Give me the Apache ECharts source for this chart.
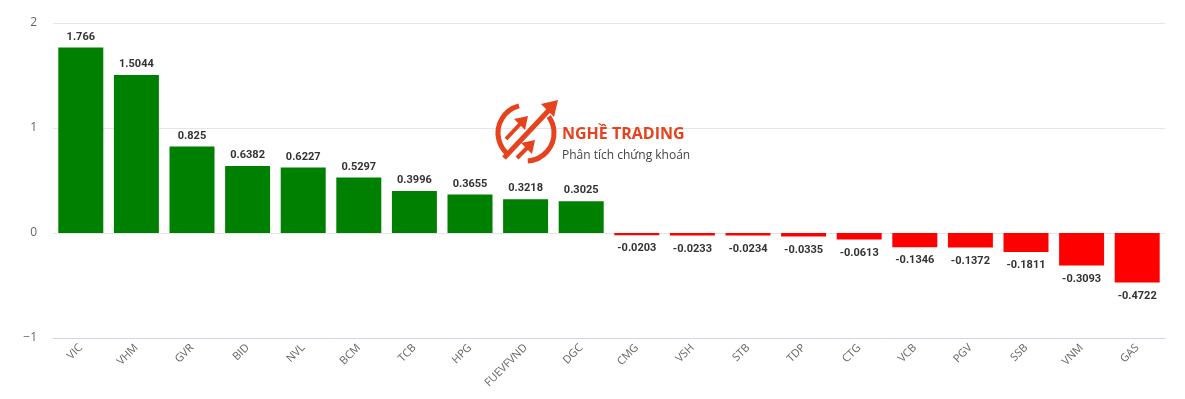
<!DOCTYPE html>
<html>
<head>
<meta charset="utf-8">
<script src="https://cdn.jsdelivr.net/npm/echarts@6/dist/echarts.min.js"></script>
<style>
  html, body { margin: 0; padding: 0; background: #fff; }
  #chart { width: 1185px; height: 399px; }
</style>
</head>
<body>
<div id="chart"></div>
<script>
// ma co phieu
const categories = ['VIC', 'VHM', 'GVR', 'BID', 'NVL', 'BCM', 'TCB', 'HPG', 'FUEVFVND', 'DGC',
  'CMG', 'VSH', 'STB', 'TDP', 'CTG', 'VCB', 'PGV', 'SSB', 'VNM', 'GAS'];
// muc dong gop (diem)
const values = [1.766, 1.5044, 0.825, 0.6382, 0.6227, 0.5297, 0.3996, 0.3655, 0.3218, 0.3025,
  -0.0203, -0.0233, -0.0234, -0.0335, -0.0613, -0.1346, -0.1372, -0.1811, -0.3093, -0.4722];
const yTicks = [-1, 0, 1, 2];

const logoColor = '#e5421d';

const chart = echarts.init(document.getElementById('chart'));

const barData = values.map(function (v) {
  return {
    value: v,
    itemStyle: { color: v >= 0 ? '#008000' : '#ff0000' },
    label: v >= 0 ? { position: 'top', distance: 5 } : { position: 'bottom', distance: 8 }
  };
});

chart.setOption({
  backgroundColor: '#ffffff',
  animation: false,
  grid: { left: 53, right: 20, top: 23, bottom: 61 },
  xAxis: {
    type: 'category',
    data: categories,
    axisLine: { onZero: false, lineStyle: { color: '#ccd6eb' } },
    axisTick: { show: false },
    axisLabel: {
      rotate: 45,
      margin: 8,
      color: '#666666',
      fontSize: 11,
      fontFamily: 'Open Sans'
    }
  },
  yAxis: {
    type: 'value',
    min: yTicks[0],
    max: yTicks[yTicks.length - 1],
    interval: 1,
    axisLine: { show: false },
    axisTick: { show: false },
    splitLine: { lineStyle: { color: '#e6e6e6' } },
    axisLabel: {
      margin: 16,
      color: '#666666',
      fontSize: 12,
      fontFamily: 'Open Sans',
      formatter: function (v) { return String(v).replace('-', '\u2212'); }
    }
  },
  series: [{
    type: 'bar',
    data: barData,
    barWidth: 45,
    label: {
      show: true,
      color: '#333333',
      fontSize: 11,
      fontWeight: 'bold',
      fontFamily: 'Roboto',
      formatter: function (p) { return String(p.value); }
    }
  }],
  graphic: [
    // logo: hai cung tron
    { type: 'arc', z: 100, shape: { cx: 526, cy: 133, r: 28, startAngle: Math.PI * 1.42, endAngle: Math.PI * 0.72, clockwise: false },
      style: { stroke: logoColor, lineWidth: 5, fill: null } },
    { type: 'arc', z: 100, shape: { cx: 526, cy: 133, r: 28, startAngle: Math.PI * 0.48, endAngle: Math.PI * 1.8, clockwise: false },
      style: { stroke: logoColor, lineWidth: 5, fill: null } },
    // mui ten cheo lon
    { type: 'line', z: 100, shape: { x1: 504, y1: 158, x2: 551, y2: 108 }, style: { stroke: logoColor, lineWidth: 5 } },
    { type: 'polygon', z: 100, shape: { points: [[558, 100], [541, 104], [554, 117]] }, style: { fill: logoColor } },
    // mui ten nho tren
    { type: 'line', z: 100, shape: { x1: 506, y1: 139, x2: 522, y2: 122 }, style: { stroke: logoColor, lineWidth: 4 } },
    { type: 'polygon', z: 100, shape: { points: [[528, 116], [514, 119], [525, 130]] }, style: { fill: logoColor } },
    // mui ten nho duoi
    { type: 'line', z: 100, shape: { x1: 517, y1: 158, x2: 529, y2: 146 }, style: { stroke: logoColor, lineWidth: 4 } },
    { type: 'polygon', z: 100, shape: { points: [[535, 140], [521, 143], [532, 154]] }, style: { fill: logoColor } },
    { type: 'text', z: 100, left: 562, top: 126,
      style: { text: 'NGHỀ TRADING', fill: logoColor, font: 'bold 16px "Open Sans"' } },
    { type: 'text', z: 100, left: 562, top: 150,
      style: { text: 'Phân tích chứng khoán', fill: '#444444', font: '12px "Open Sans"' } }
  ]
});
</script>
</body>
</html>
